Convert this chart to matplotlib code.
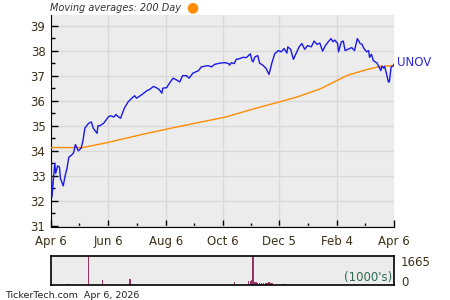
import numpy as np
import matplotlib
matplotlib.use('Agg')
import matplotlib.pyplot as plt

start = np.datetime64('2025-04-06')

# price (day offset from Apr 6 2025, close)
price_days = [0, 1, 4, 5, 7, 9, 10, 13, 15, 17, 19, 22, 24, 26, 29, 32, 34, 36, 40, 43,
              45, 49, 50, 52, 56, 58, 61, 63, 67, 69, 71, 74, 78, 82, 86, 89, 91, 95, 97,
              102, 105, 109, 112, 115, 118, 119, 123, 127, 130, 134, 137, 140, 144, 147,
              151, 157, 160, 164, 167, 171, 174, 180, 185, 189, 190, 192, 195, 197, 201,
              204, 208, 212, 214, 215, 217, 220, 222, 226, 229, 232, 235, 238, 242, 245,
              248, 251, 252, 255, 258, 261, 264, 267, 270, 273, 277, 280, 283, 286, 289,
              292, 295, 298, 300, 302, 305, 306, 309, 311, 313, 316, 320, 323, 326, 329,
              331, 333, 336, 338, 339, 341, 343, 345, 347, 349, 351, 352, 354, 355, 357,
              359, 360, 362, 364, 365]
price_vals = [33.5, 32.15, 33.5, 33.1, 33.4, 33.35, 32.9, 32.6, 33.0, 33.3, 33.75, 33.83,
              33.92, 34.25, 34.0, 34.1, 34.4, 34.9, 35.1, 35.15, 34.9, 34.7, 35.0, 35.0,
              35.1, 35.2, 35.35, 35.4, 35.35, 35.45, 35.38, 35.3, 35.7, 35.95, 36.1, 36.2,
              36.1, 36.2, 36.25, 36.4, 36.45, 36.57, 36.52, 36.45, 36.3, 36.5, 36.52,
              36.75, 36.9, 36.82, 36.75, 37.0, 37.0, 36.9, 37.1, 37.2, 37.35, 37.38, 37.4,
              37.35, 37.45, 37.5, 37.52, 37.48, 37.42, 37.52, 37.48, 37.65, 37.68, 37.73,
              37.72, 37.87, 37.6, 37.55, 37.75, 37.8, 37.5, 37.4, 37.28, 37.05, 37.5,
              37.87, 38.0, 37.95, 38.08, 37.9, 38.15, 38.05, 37.65, 37.9, 38.15, 38.28,
              38.05, 38.2, 38.15, 38.38, 38.25, 38.3, 37.98, 38.2, 38.35, 38.48, 38.35,
              38.42, 38.28, 37.95, 38.35, 38.38, 38.0, 38.05, 38.12, 38.0, 38.48, 38.28,
              38.25, 38.08, 37.95, 38.0, 37.73, 37.85, 37.6, 37.55, 37.5, 37.35, 37.2,
              37.38, 37.3, 37.37, 37.08, 36.75, 36.75, 37.35, 37.38, 37.45]

# 200 day moving average
ma_days = [0, 34, 60, 100, 140, 185, 220, 243, 262, 287, 305, 316, 334, 348, 365]
ma_vals = [34.13, 34.13, 34.33, 34.68, 35.0, 35.34, 35.72, 35.95, 36.15, 36.48, 36.82,
           37.02, 37.22, 37.35, 37.41]

# volume (1000's)
vol_days = [0, 19, 40, 55, 84, 195, 210, 212, 214, 215, 216, 218, 220, 222, 224, 226,
            228, 230, 232, 234, 236, 248]
vol_vals = [40, 50, 1665, 290, 350, 150, 250, 240, 260, 1665, 200, 150, 120, 140, 100,
            130, 90, 140, 150, 120, 110, 60]

xtick_dates = ['2025-04-06', '2025-06-06', '2025-08-06', '2025-10-06', '2025-12-05',
               '2026-02-04', '2026-04-06']
xtick_labels = ['Apr 6', 'Jun 6', 'Aug 6', 'Oct 6', 'Dec 5', 'Feb 4', 'Apr 6']
minor_dates = ['2025-05-06', '2025-07-06', '2025-09-05', '2025-11-05', '2026-01-05',
               '2026-03-06']

to_dates = lambda d: (start + np.array(d, dtype='timedelta64[D]')).astype('datetime64[D]')
px = to_dates(price_days)
mx = to_dates(ma_days)
vx = to_dates(vol_days)
xmin, xmax = start, start + np.timedelta64(365, 'D')

txt_col = '#3d3018'
bg = '#ececec'
grid_col = '#d9d9d9'

fig = plt.figure(figsize=(4.5, 3), dpi=100)
ax = fig.add_axes([51/450, 1-227/300, 343/450, 212/300])
ax.set_facecolor(bg)
ax.plot(mx, ma_vals, color='#ff8c00', lw=1.0, zorder=3)
ax.plot(px, price_vals, color='#1a1ae6', lw=1.0, zorder=4)
ax.set_xlim(xmin, xmax)
ax.set_ylim(30.96, 39.42)
ax.set_yticks(range(31, 40))
ax.set_yticks(np.arange(31.5, 39.5, 1), minor=True)
ax.set_xticks(np.array(xtick_dates, dtype='datetime64[D]'))
ax.set_xticklabels(xtick_labels)
ax.set_xticks(np.array(minor_dates, dtype='datetime64[D]'), minor=True)
ax.grid(True, which='major', color=grid_col, lw=1.0)
ax.set_axisbelow(True)
for s in ['top', 'right']:
    ax.spines[s].set_visible(False)
ax.tick_params(which='major', direction='in', length=5, width=1, labelsize=8.5,
               labelcolor=txt_col, pad=4)
ax.tick_params(which='minor', direction='in', length=3, width=1)
ax.tick_params(axis='x', pad=6)
ax.text(1.008, 0.778, 'UNOV', transform=ax.transAxes, color='#2a2ad0', fontsize=8.5,
        va='center', ha='left')

fig.text(50/450, 1-8/300, 'Moving averages: 200 Day', fontsize=7, style='italic',
         color='#333333', va='center', ha='left')
fig.text(192/450, 1-7/300, '\u25cf', fontsize=10, color='#ff8c00', va='center',
         ha='center')

vax = fig.add_axes([51/450, 1-285/300, 343/450, 29/300])
vax.set_facecolor(bg)
vax.bar(vx, vol_vals, width=1.4, color='#993366')
vax.set_xlim(xmin, xmax)
vax.set_ylim(0, 1665)
vax.set_xticks([])
vax.set_yticks([])
for s in vax.spines.values():
    s.set_linewidth(1.2)
vax.text(1.02, 0.78, '1665', transform=vax.transAxes, fontsize=8.5, color=txt_col,
         va='center', ha='left')
vax.text(1.02, 0.1, '0', transform=vax.transAxes, fontsize=8.5, color=txt_col,
         va='center', ha='left')
vax.text(0.995, 0.03, "(1000's)", transform=vax.transAxes, fontsize=8.5,
         color='#2f6b55', va='bottom', ha='right')

fig.text(5/450, 1-295/300, 'TickerTech.com  Apr 6, 2026', fontsize=6.8,
         color='#222222', va='center', ha='left')

fig.savefig('out.png', dpi=100)
